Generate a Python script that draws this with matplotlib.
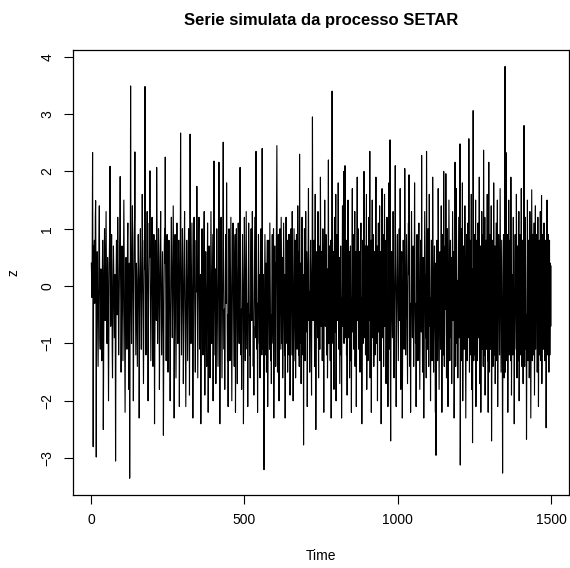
import numpy as np
import matplotlib
matplotlib.use('Agg')
import matplotlib.pyplot as plt

# serie SETAR simulata, valori stimati dal grafico (t = 1..1500)
z_vals = [
    0.4, 0.1, -0.2, 0.8, 2.33, 0.2, -2.80, -0.4, 0.7, 0.5, 0.8, -0.3, 0.2, 1.2, 1.49, 0.3, -2.98, -0.6, 0.2, 0.6, -0.1, -0.8, -1.4, -0.6, 0.3,
    0.9, 1.4, 0.1, -0.9, -1.1, -0.4, 0.3, 0.0, -0.7, -1.3, -0.5, 0.4, 0.8, 0.2, -2.5, -1.2, -0.3, 0.5, 1.0, 0.3, -0.6, -0.2, 0.6, 1.3, 0.4,
    -0.5, -1.0, -0.2, 0.5, 0.1, -0.8, -2.0, -0.9, 0.2, 0.6, 1.1, 2.09, 0.3, -0.7, -0.4, 0.4, 0.9, 0.2, -1.1, -1.6, -0.6, 0.1, 0.7, 0.3, -0.3,
    -0.9, -0.4, 0.2, -0.6, -3.05, -1.1, 0.3, 0.8, 0.1, -0.5, 0.4, 1.2, 0.6, -0.4, -1.2, -0.7, 0.0, 0.5, 0.9, 1.91, 0.4, -0.3, -1.5, -0.8, 0.2,
    0.7, 0.4, -0.6, -1.3, -0.4, 0.3, 1.5, 0.6, -0.2, -0.9, -2.2, -1.0, 0.1, 0.5, 0.2, -0.5, -1.1, -0.3, 0.8, 1.1, 0.3, -0.7, -1.8, -0.6, 0.4,
    -3.35, -0.9, 0.2, 3.49, 0.8, -0.4, -1.0, 0.1, 0.7, 1.4, 0.5, -0.6, -2.0, -0.8, 0.3, 0.9, 1.2, 2.34, 0.6, -0.3, -1.2, -0.5, 0.4, 0.1, -0.7,
    -1.4, -0.6, 0.3, 0.9, 0.4, -0.2, -2.3, -1.0, 0.1, 0.6, 1.0, 0.2, -0.5, -1.1, -0.4, 0.5, 1.6, 0.7, -0.3, -0.8, -1.7, -0.6, 0.2, 0.8, 0.3,
    3.48, 0.6, -0.4, -1.2, -0.7, 0.1, 0.5, 1.3, 0.4, -0.6, -2.0, -0.9, 0.2, 0.7, 1.1, 0.5, 2.01, 0.3, -0.5, -1.3, -0.6, 0.0, 0.6, 1.2, 0.2,
    -0.6, -1.4, -0.8, 0.1, 0.9, 0.4, -2.4, -1.1, -0.3, 0.4, 0.8, 0.1, -0.6, 2.07, 0.7, -0.2, -1.0, -0.5, 0.3, 1.0, 0.5, -0.4, -1.8, -0.7, 0.2,
    0.8, 1.3, 0.3, -0.5, -1.2, -0.6, 0.2, 0.6, -0.3, -1.0, -2.6, -1.1, 0.0, 0.7, 1.0, 0.4, 2.25, 0.6, -0.4, -1.3, -0.7, 0.1, 0.9, 0.3, -0.5,
    -1.5, -0.6, 0.3, 0.8, 0.2, -0.4, -1.0, -2.0, -0.8, 0.1, 0.7, 1.2, 0.4, -0.3, -0.9, -0.4, 0.5, 1.4, 0.6, -0.2, -2.3, -1.0, 0.2, 0.9, 0.3,
    -0.6, -1.6, -0.5, 0.4, 1.1, 0.5, -0.2, -1.0, -0.4, 0.3, 0.8, -0.2, -2.1, -0.9, 0.2, 0.6, 2.67, 0.7, -0.3, -1.2, -0.6, 0.1, 1.0, 0.5, -0.4,
    -1.7, -0.8, 0.0, 0.7, 1.3, 0.4, -0.5, -1.1, -2.1, -0.9, 0.2, 0.8, 0.3, -0.4, -1.3, -0.6, 0.3, 1.0, 0.5, -0.2, -1.9, -0.4, 2.65, 0.6, -0.5,
    -1.0, -0.3, 0.5, 1.1, 0.2, -0.6, -2.3, -1.0, 0.0, 0.6, 1.2, 0.4, -0.3, -0.9, -1.5, -0.5, 0.3, 0.8, -0.1, 1.74, 0.5, -0.4, -1.6, -0.7, 0.2,
    0.9, 1.2, 0.3, -0.6, -1.1, -0.4, 0.2, -2.4, -1.0, 0.1, 0.7, 1.0, 0.2, -0.5, -1.2, -0.6, 0.4, 0.9, 1.3, 0.3, -1.9, -0.7, 0.1, 0.6, -0.2,
    -0.8, -1.4, -0.5, 0.4, 1.1, 0.3, -2.2, -0.9, 0.0, 0.7, 0.2, -0.4, -1.6, -0.6, 0.5, 1.3, 0.4, -0.3, -1.0, -0.3, 0.6, 0.9, -2.0, -0.8, 0.3,
    2.18, 0.5, -0.4, -1.2, -0.5, 0.3, -1.7, -0.6, 0.2, 1.0, 0.4, -0.3, -1.0, -1.4, -0.4, 0.5, 2.16, 0.6, -0.2, -2.4, -1.0, 0.0, 0.8, 1.2, 0.3,
    -0.6, -1.6, -0.7, 0.2, 0.9, 2.51, 0.5, -0.5, -1.1, -0.4, -1.8, -0.6, 0.3, 0.9, 0.4, -0.3, 1.80, 0.4, -0.7, -1.3, -0.5, -2.1, -0.8, 0.2, 1.0,
    0.5, -0.4, -1.3, -0.7, 0.3, 1.2, 0.2, -0.6, -2.0, -0.9, 0.0, 0.8, 1.1, 0.3, -0.5, -1.0, -1.4, -0.3, 0.5, 0.9, -2.2, -0.8, 0.1, 1.0, 0.4,
    -0.4, -1.7, -0.6, 0.3, 1.1, 0.4, -0.3, -1.0, 0.2, 0.8, 2.07, 0.5, -0.5, -1.2, -0.4, -1.8, -0.6, 0.2, 0.9, 0.3, -0.5, -2.4, -0.9, 0.1, 1.2,
    0.5, -0.6, -1.3, -0.4, 0.4, 1.3, 0.2, -0.7, -1.1, -0.3, -2.1, -0.8, 0.2, 1.1, 0.4, -0.3, -1.2, -0.5, -1.6, -0.4, 0.5, 1.0, 0.2, -0.6, -0.2,
    1.3, 0.4, -0.5, -1.4, -0.7, -1.9, -0.5, 0.3, 1.2, 0.4, -0.3, -0.9, 2.35, 0.6, -0.4, -1.1, -0.3, -2.2, -0.9, 0.1, 0.9, 0.3, -0.5, -1.0, 0.2,
    -1.6, -0.6, 0.3, 1.0, 0.3, -0.5, -1.2, 2.40, 0.5, -0.4, -1.1, 0.2, -1.8, -3.20, -0.8, 0.2, 0.9, 0.3, -0.5, -1.2, 0.4, -1.5, -0.5, 0.3, 0.8,
    -2.1, -0.9, 0.1, 0.8, 0.3, -0.5, -1.1, 1.1, 0.3, -0.4, -1.3, -0.5, -1.7, -0.5, 0.4, 0.9, 0.1, -0.6, -1.0, 1.0, -2.3, -0.9, 0.2, 0.7, -0.3,
    0.4, -1.4, -0.5, 0.5, 1.3, 2.45, 0.2, -1.5, -0.6, 0.3, 0.9, 0.2, -2.0, -0.8, 0.1, 1.0, 0.3, -0.5, -1.1, 1.2, 0.4, -0.4, -1.0, 0.5, -1.6,
    -0.6, 0.3, 1.1, 0.4, -0.5, -1.2, 0.2, -2.3, -0.9, 0.2, 1.2, 0.5, -0.4, -1.0, 0.8, -1.5, -0.5, 0.3, 0.9, -0.2, -1.2, -0.4, 0.9, -1.9, -0.6,
    0.3, 1.0, 0.2, -0.7, -1.2, 1.3, 0.4, -0.5, -2.0, -0.9, 0.1, 1.0, 0.3, -0.6, -1.3, 0.8, -1.6, -0.5, 0.3, 0.9, -0.3, -1.1, -0.5, 1.4, 0.3,
    -0.5, -1.2, 0.6, -1.4, 2.30, 0.5, -0.4, -1.0, 0.4, -1.7, -0.6, 0.3, 1.2, 0.3, -0.5, -1.2, 0.2, -2.77, -0.7, 0.2, 1.0, -0.3, -1.3, -0.5, 1.3,
    -0.8, -0.2, 0.6, 0.3, -2.1, -1.0, -0.3, 0.9, 1.7, 0.2, -0.6, -0.1, -1.5, -0.7, 0.4, 0.8, -0.2, -0.9, -1.9, 0.1, 0.5, 2.95, 0.7, -0.6, -0.3,
    0.2, 0.8, -0.1, -1.4, 0.3, 1.6, -0.4, -2.5, -1.2, 0.1, 0.6, 0.2, -0.5, -0.9, 1.3, -0.2, -1.6, 0.0, 0.7, -0.4, -1.1, -0.2, 1.9, 0.4, -0.7,
    0.1, 0.6, -0.2, -1.3, -0.5, 1.0, 0.4, -0.8, -2.2, -0.4, 0.2, 1.5, -0.3, -0.7, 0.1, 0.9, 0.2, -1.2, -0.4, 0.3, -1.6, -0.9, 0.2, 2.2, -0.6,
    -1.0, 0.1, 0.7, -0.5, -1.3, 0.3, 0.8, -2.3, -0.6, 0.2, 3.40, 0.5, -0.4, -1.0, 0.6, -0.3, -1.8, 0.1, 1.2, -0.2, -0.8, 0.4, 1.6, -2.0, -0.7,
    0.3, 0.9, -0.6, -0.1, 0.4, 1.8, 0.2, -1.1, -0.4, 0.5, -1.7, -0.9, 0.0, 0.7, -1.2, -0.2, -2.3, -0.5, 0.3, 1.4, -0.7, -0.1, 0.5, 2.0, -1.0,
    -0.3, 0.4, 2.10, -0.9, -0.2, 0.3, 0.8, -1.2, -0.3, -1.9, -0.6, 0.2, 1.5, -0.4, -0.9, 0.1, 0.6, -1.6, -0.5, 0.3, 0.7, -1.3, -0.2, -2.2, -0.4,
    0.4, 1.7, -0.8, -0.2, 0.5, 0.9, -1.1, -0.3, 0.2, 1.3, -1.4, -0.5, 0.1, 0.6, -2.1, -0.7, 0.3, 1.9, -0.6, -0.1, 0.4, 1.0, -1.1, -0.3, 0.6,
    0.2, -1.5, -0.3, 0.4, 1.1, -0.7, -0.2, -2.4, -0.8, 0.3, 0.8, -1.0, -0.2, 0.5, 2.0, -0.9, -0.4, 0.1, 0.7, -1.2, -0.3, 0.4, 1.6, -1.8, -0.5,
    0.1, 0.7, -1.3, -0.4, 0.3, 1.2, -0.6, -0.1, 2.35, -1.6, -0.5, 0.2, 0.8, -2.2, -0.6, 0.4, 1.5, -0.9, -0.3, 0.3, 0.9, -1.4, -0.4, 0.2, 0.6,
    -1.2, -0.3, 0.5, 1.9, -1.0, -0.4, 0.3, 0.7, -2.0, -0.6, 0.2, 1.1, -0.8, -0.2, 0.4, 1.4, -1.3, -0.4, 0.1, 0.6, -2.4, -0.7, 0.3, 1.7, -0.9,
    -0.3, 0.4, 0.9, -1.4, -0.4, 0.2, 1.6, -0.7, -0.2, 0.5, 0.8, -1.7, -0.5, 0.3, 1.2, -0.9, -0.3, -2.1, -0.6, 0.4, 1.8, -1.1, -0.3, 0.5, 2.55,
    -1.4, -2.70, -1.1, -0.2, 0.6, 0.2, -0.5, -0.9, 0.1, 1.3, 0.5, -0.4, -1.6, -0.8, 0.0, 0.7, 2.1, 0.4, -0.3, -2.1, -0.9, -0.2, 0.5, 0.9, 0.1,
    -0.7, -1.3, -0.4, 0.3, 1.0, 0.2, -0.6, 1.7, 0.3, -1.8, -0.8, 0.1, 0.6, -0.3, -2.3, -1.0, -0.1, 0.8, 0.4, -0.5, -1.1, 0.2, 2.05, 0.6, -0.4,
    -1.2, -0.5, 0.4, 0.9, 0.1, -0.7, -1.7, -0.6, 0.3, 1.1, 0.2, 1.94, 0.5, -0.6, -1.4, -0.3, -2.2, -0.8, 0.2, 1.3, 0.6, -0.4, -0.9, 0.1, 0.7,
    -0.2, -1.4, -0.6, 0.3, 1.8, 0.4, -0.5, -1.0, -0.3, -2.1, -0.7, 0.2, 0.9, 0.3, -0.4, -1.3, -0.5, 0.6, 1.1, 0.2, -0.6, -1.8, -0.7, 0.4, 0.8,
    0.1, -0.8, 2.28, 0.4, -0.6, -1.5, -0.4, 0.5, -0.2, -2.3, -1.0, -0.1, 1.3, 0.5, -0.3, -0.9, 0.2, -1.6, 2.35, 0.6, -0.4, -1.1, 0.3, 1.0, -0.5,
    -1.4, -0.3, 1.6, 0.3, -0.7, -0.2, -2.0, -0.9, 0.1, 0.8, 0.2, -1.3, -0.4, 1.9, 0.5, -0.5, -1.5, -0.6, 0.3, 0.7, -0.4, -1.0, -2.2, 0.4, -2.95,
    -0.9, 0.2, 0.8, -0.1, -1.3, -0.5, 1.7, 0.4, -0.6, -1.8, -0.7, 0.1, 0.6, -0.3, -1.1, 0.3, 1.4, -0.2, -2.2, -0.8, 0.2, 0.9, -0.5, -1.2, 2.0,
    0.3, -1.4, -0.6, 0.2, 0.7, -0.4, 1.96, 0.2, -1.6, -0.7, 0.4, 1.0, -0.3, -2.1, -1.0, -0.2, 1.5, 0.6, -0.5, -1.3, 0.1, 0.8, -0.4, -0.9, 0.5,
    -1.7, -0.8, 0.2, 1.3, 0.4, -0.6, -0.1, 0.6, -2.3, -1.1, -0.2, 2.16, 0.3, -1.4, -0.5, 1.7, 0.5, -0.4, -1.0, 0.1, -1.6, -0.7, 0.3, 1.2, 0.2,
    -0.9, 0.1, 2.48, -3.12, -1.0, 0.2, 1.0, 0.1, -1.3, -0.4, 1.8, -2.0, -0.9, 0.2, 0.7, -0.2, -1.1, -0.3, 1.4, 0.2, -1.4, -2.3, -0.8, 0.4, 0.9,
    -0.3, -1.3, -0.5, 1.1, 0.3, -0.9, 2.57, 0.1, -1.5, -0.6, 0.8, 0.2, -1.2, -0.2, 1.6, -1.8, -0.6, 0.3, -2.73, -0.4, 3.06, 0.2, -1.3, -0.4, 0.9,
    0.2, -1.2, -0.3, 1.5, -2.1, -0.9, 0.3, 0.8, -0.2, -1.3, -0.5, 1.1, 0.3, -0.9, -0.1, 1.9, -1.7, -0.7, 0.2, 0.7, -2.2, -1.0, 0.0, 1.3, 0.4,
    -1.1, -0.3, 0.9, -1.4, 2.37, 0.4, -1.2, -0.2, 1.2, -1.9, -0.8, 0.3, 0.8, -0.1, -1.1, 0.2, 1.6, -1.3, -0.4, -2.2, -0.7, 2.16, -1.5, -0.5, 0.4,
    0.9, -0.2, -1.1, 0.4, 1.4, -2.70, -1.0, 0.1, 0.8, -0.3, -1.4, -0.5, 1.8, 0.4, -1.2, -0.3, 0.7, -1.7, -0.8, 0.2, 1.1, -0.1, -1.3, -0.4, 1.5,
    -2.1, -0.9, 0.2, 0.9, 0.4, -0.2, -1.2, 0.3, 1.7, 0.5, -0.6, -1.5, -0.2, 0.8, -0.1, -1.1, -3.26, -1.1, 0.2, 0.9, 0.1, -1.6, -0.6, 1.4, 3.83,
    -1.5, -0.5, 2.33, -0.2, -1.3, 0.5, 0.9, 0.1, -2.2, -0.9, 0.1, 1.5, 0.6, -1.2, -0.3, 0.8, 0.2, -1.3, 1.9, 0.3, -1.9, -0.7, 0.2, -0.6, -1.2,
    0.3, 1.2, 0.1, -0.6, -2.4, -0.9, 0.2, 0.9, 0.3, -0.3, -1.1, 1.6, 0.4, -1.6, -0.5, 0.7, -0.2, -1.3, 0.5, 1.3, -2.0, -0.8, 0.1, 0.9, -1.2,
    -0.4, 0.3, 1.7, 0.2, -1.4, -0.6, 0.8, -0.3, -1.7, 0.1, 1.0, 2.80, -0.2, -1.4, 0.4, 1.2, 0.2, -1.1, -0.5, -2.67, -1.0, 0.2, 1.5, -0.1, -1.3,
    -0.4, 0.8, 0.2, -1.6, -0.6, 1.3, 0.3, -1.2, -2.3, -0.9, 0.2, 1.68, 0.4, -1.3, -0.5, 0.9, -0.2, -1.2, 0.6, 1.1, -1.9, -0.7, 0.2, 1.4, -1.1,
    -0.4, 0.4, 0.9, 0.1, -1.5, -0.6, 1.2, -0.3, -2.1, -0.8, 0.3, 0.8, -1.2, -0.4, 1.3, 0.3, -1.3, 0.3, 1.58, -1.7, -0.6, 0.2, 0.9, -0.2, -1.1,
    -0.3, 1.1, 0.2, -1.3, -0.5, 0.8, -1.1, -0.3, -2.47, -0.9, 0.3, 1.5, -0.1, -1.2, 0.4, 0.9, -0.5, -1.5, 0.3, 0.8, -1.2, -0.3, 0.4, -0.7, 0.35,
]
time = np.arange(1, len(z_vals) + 1)

x_ticks = [0, 500, 1000, 1500]
y_ticks = [-3, -2, -1, 0, 1, 2, 3, 4]

plt.rcParams['font.family'] = ['Liberation Sans', 'DejaVu Sans']

fig = plt.figure(figsize=(5.7, 5.68), dpi=100)
ax = fig.add_axes([0.128, 0.129, 0.871, 0.783])

ax.plot(time, z_vals, color='black', linewidth=0.8)
ax.margins(x=0.04, y=0.04)

ax.set_xticks(x_ticks)
ax.set_yticks(y_ticks)
ax.tick_params(direction='out', length=6.3, width=0.8, labelsize=10, pad=7)
ax.tick_params(axis='y', labelrotation=90)
for lab in ax.get_yticklabels():
    lab.set_va('center')
for sp in ax.spines.values():
    sp.set_linewidth(0.9)

ax.set_title('Serie simulata da processo SETAR', fontsize=12, fontweight='bold', pad=18)
ax.set_xlabel('Time', fontsize=10, va='center')
ax.xaxis.set_label_coords(0.5, -0.137)
ax.set_ylabel('z', fontsize=10, va='center', ha='center')
ax.yaxis.set_label_coords(-0.119, 0.5)

plt.savefig('out.png', dpi=100)
